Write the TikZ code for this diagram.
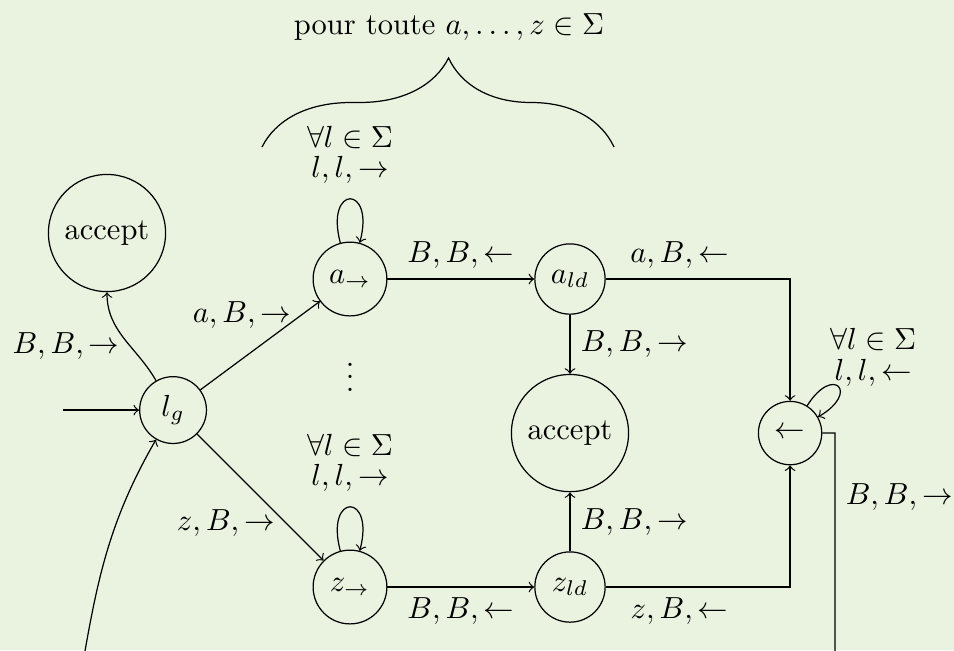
\documentclass[tikz,border=0pt]{standalone}
\usepackage{amsmath,amssymb}
\usetikzlibrary{decorations.pathreplacing}
\definecolor{fond}{RGB}{234,243,224}
\tikzset{
  etat/.style={circle,draw,inner sep=1pt,minimum size=0.81cm},
  grand/.style={etat,minimum size=1.35cm},
}
\begin{document}
\begin{tikzpicture}[x=1cm,y=1cm,>=to]
\useasboundingbox (0,0) rectangle (10.993,-7.490);
\fill[fond] (0,0) rectangle (10.993,-7.490);
\clip (0,0) rectangle (10.993,-7.490);

\node[grand] (acc1) at (1.233,-2.685) {accept};
\node[etat,minimum size=0.77cm] (lg) at (1.994,-4.725) {$l_g$};
\node[etat,minimum size=0.85cm] (ar) at (4.033,-3.215) {$a_\to$};
\node (dots) at (4.033,-4.241) {$\vdots$};
\node[etat,minimum size=0.85cm] (zr) at (4.033,-6.764) {$z_\to$};
\node[etat] (ald) at (6.568,-3.215) {$a_{ld}$};
\node[grand] (acc2) at (6.568,-4.990) {accept};
\node[etat] (zld) at (6.568,-6.764) {$z_{ld}$};
\node[etat,minimum size=0.73cm] (gauche) at (9.104,-4.990) {$\leftarrow$};

\coordinate (init) at (0.726,-4.725);
\coordinate (bas1) at (9.622,-8.07);
\coordinate (bas2) at (0.88,-8.07);
\coordinate (bg) at (3.019,-1.694);
\coordinate (bd) at (7.075,-1.694);

\draw[decorate,decoration={brace,amplitude=1.026cm,aspect=0.53}] (bg) -- (bd);
\node (pour) at (5.174,-0.311) {pour toute $a,\ldots,z\in\Sigma$};

\draw[->] (init) -- (lg);
\draw[->] (lg) to[out=120,in=-90] node[pos=0.4,left] {$B,B,\to$} (acc1);
\draw[->] (lg) -- node[pos=0.85,left] {$a,B,\to$} (ar);
\draw[->] (lg) -- node[pos=0.7,left] {$z,B,\to$} (zr);

\draw[->] (ar) to[loop above] node[above,yshift=0.5mm,align=center] {$\forall l\in\Sigma$\\[-2pt]$l,l,\to$} (ar);
\draw[->] (zr) to[loop above] node[above,yshift=0.5mm,align=center] {$\forall l\in\Sigma$\\[-2pt]$l,l,\to$} (zr);

\draw[->] (ar) -- node[above] {$B,B,\leftarrow$} (ald);
\draw[->] (zr) -- node[below] {$B,B,\leftarrow$} (zld);
\draw[->] (ald) -- node[right] {$B,B,\to$} (acc2);
\draw[->] (zld) -- node[right] {$B,B,\to$} (acc2);

\draw[->] (ald) -| node[pos=0.2,above] {$a,B,\leftarrow$} (gauche);
\draw[->] (zld) -| node[pos=0.2,below] {$z,B,\leftarrow$} (gauche);
\draw[->] (gauche) to[out=58,in=30,loop] node[above right,inner sep=0pt,xshift=-1mm,align=center] {$\forall l\in\Sigma$\\[-2pt]$l,l,\leftarrow$} (gauche);

\draw[->] (gauche) -| node[pos=0.62,right] {$B,B,\to$} (bas1) -- (bas2) to[out=80,in=240] (lg);
\end{tikzpicture}
\end{document}
